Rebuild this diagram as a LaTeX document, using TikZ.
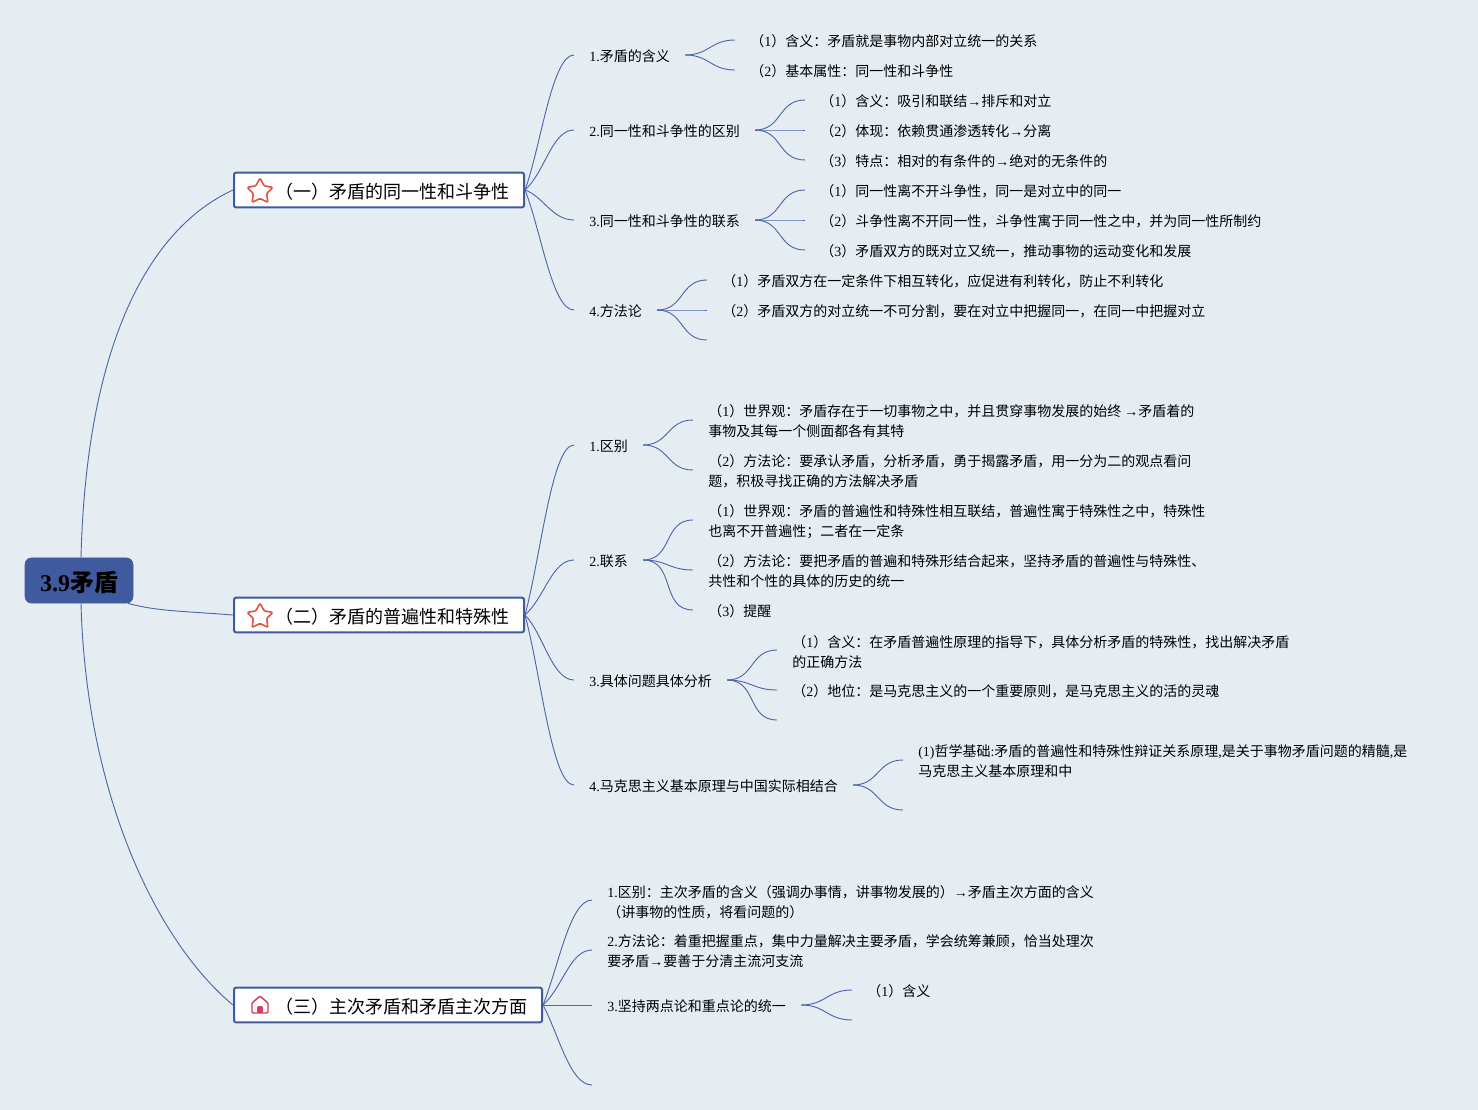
\documentclass[tikz,border=0pt]{standalone}
\usepackage{fontspec}
\setmainfont{Noto Sans CJK SC}
\newfontfamily\latin{Liberation Serif}
\newcommand{\lat}[1]{{\latin #1}}
\usetikzlibrary{arrows.meta, positioning, calc, shapes.geometric}
\definecolor{MapBack}{HTML}{E5EDF3}
\definecolor{MapBlue}{HTML}{3F5A9E}
\definecolor{MapLine}{HTML}{4F66A8}
\definecolor{MapStar}{HTML}{E2523F}
\definecolor{MapHome}{HTML}{D93A62}

\begin{document}
\begin{tikzpicture}[
    x=0.75pt, y=-0.75pt,
    root/.style={
        rectangle, rounded corners=5pt, draw=MapBlue, fill=MapBlue,
        minimum width=81pt, minimum height=34pt, inner sep=0pt,
        text height=19pt, text depth=2pt,
        font=\fontsize{18}{22}\selectfont\bfseries
    },
    sect/.style={
        rectangle, rounded corners=1.5pt, draw=MapBlue, line width=1.5pt, fill=white,
        anchor=west, minimum height=26pt, inner ysep=0pt, inner xsep=11.25pt,
        text height=14pt, text depth=1.6pt,
        font=\fontsize{13.5}{18}\selectfont
    },
    item/.style={
        anchor=west, align=left, inner xsep=11.25pt, inner ysep=0pt,
        font=\fontsize{10.5}{15}\selectfont,
        execute at begin node=\rule[-4.5pt]{0pt}{18pt}, execute at end node=\strut
    },
    icon/.style={
        star, star points=5, star point ratio=1.9, draw=MapStar, line width=1.2pt,
        minimum size=20pt, inner sep=0pt, rounded corners=0.8pt
    },
    branch/.style={MapLine, line width=0.7pt},
    fan/.style={branch, out=0, in=180, looseness=1.2}
]
\fill[MapBack] (0,0) rectangle (1478,1110);
\useasboundingbox (0,0) rectangle (1478,1110);

\node[root] (root) at (79,580.5) {\lat{3.9}矛盾};

\node[sect] (sec1) at (233,190) {\hspace*{19.5pt}（一）矛盾的同一性和斗争性};
\node[sect] (sec2) at (233,615) {\hspace*{19.5pt}（二）矛盾的普遍性和特殊性};
\node[sect] (sec3) at (233,1005) {\hspace*{19.5pt}（三）主次矛盾和矛盾主次方面};

\node[icon] (star1) at (260,191.5) {};
\node[icon] (star2) at (260,616.5) {};
% house icon
\begin{scope}[shift={(260,1005)}]
    \draw[MapHome, line width=1.1pt, rounded corners=0.8pt, line join=round]
        (-8,-2) -- (0,-9) -- (8,-2) -- (8,8) -- (-8,8) -- cycle;
    \fill[MapHome, rounded corners=1pt] (-3,8) -- (-3,1) -- (3,1) -- (3,8) -- cycle;
\end{scope}

% first section
\node[item] (a1) at (574,55) {\lat{1.}矛盾的含义};
\node[item] (a2) at (574,130) {\lat{2.}同一性和斗争性的区别};
\node[item] (a3) at (574,220) {\lat{3.}同一性和斗争性的联系};
\node[item] (a4) at (574,310) {\lat{4.}方法论};

\node[item] (a11) at (735,40) {（\lat{1}）含义：矛盾就是事物内部对立统一的关系};
\node[item] (a12) at (735,70) {（\lat{2}）基本属性：同一性和斗争性};
\node[item] (a21) at (805,100) {（\lat{1}）含义：吸引和联结\lat{→}排斥和对立};
\node[item] (a22) at (805,130) {（\lat{2}）体现：依赖贯通渗透转化\lat{→}分离};
\node[item] (a23) at (805,160) {（\lat{3}）特点：相对的有条件的\lat{→}绝对的无条件的};
\node[item] (a31) at (805,190) {（\lat{1}）同一性离不开斗争性，同一是对立中的同一};
\node[item] (a32) at (805,220) {（\lat{2}）斗争性离不开同一性，斗争性寓于同一性之中，并为同一性所制约};
\node[item] (a33) at (805,250) {（\lat{3}）矛盾双方的既对立又统一，推动事物的运动变化和发展};
\node[item] (a41) at (707,280) {（\lat{1}）矛盾双方在一定条件下相互转化，应促进有利转化，防止不利转化};
\node[item] (a42) at (707,310) {（\lat{2}）矛盾双方的对立统一不可分割，要在对立中把握同一，在同一中把握对立};
\coordinate (a43) at (707,340);

% second section
\node[item] (b1) at (574,445) {\lat{1.}区别};
\node[item] (b2) at (574,560) {\lat{2.}联系};
\node[item] (b3) at (574,680) {\lat{3.}具体问题具体分析};
\node[item] (b4) at (574,785) {\lat{4.}马克思主义基本原理与中国实际相结合};

\node[item] (b11) at (693,424) {（\lat{1}）世界观：矛盾存在于一切事物之中，并且贯穿事物发展的始终 \lat{→}矛盾着的\\事物及其每一个侧面都各有其特};
\node[item] (b12) at (693,474) {（\lat{2}）方法论：要承认矛盾，分析矛盾，勇于揭露矛盾，用一分为二的观点看问\\题，积极寻找正确的方法解决矛盾};
\node[item] (b21) at (693,524) {（\lat{1}）世界观：矛盾的普遍性和特殊性相互联结，普遍性寓于特殊性之中，特殊性\\也离不开普遍性；二者在一定条};
\node[item] (b22) at (693,574) {（\lat{2}）方法论：要把矛盾的普遍和特殊形结合起来，坚持矛盾的普遍性与特殊性、\\共性和个性的具体的历史的统一};
\node[item] (b23) at (693,610) {（\lat{3}）提醒};
\node[item] (b31) at (777,654) {（\lat{1}）含义：在矛盾普遍性原理的指导下，具体分析矛盾的特殊性，找出解决矛盾\\的正确方法};
\node[item] (b32) at (777,690) {（\lat{2}）地位：是马克思主义的一个重要原则，是马克思主义的活的灵魂};
\coordinate (b33) at (777,720);
\node[item] (b41) at (903,764) {\lat{(1)}哲学基础\lat{:}矛盾的普遍性和特殊性辩证关系原理\lat{,}是关于事物矛盾问题的精髓\lat{,}是\\马克思主义基本原理和中};
\coordinate (b42) at (903,810);

% third section
\node[item] (c1) at (592,904) {\lat{1.}区别：主次矛盾的含义（强调办事情，讲事物发展的）\lat{→}矛盾主次方面的含义\\（讲事物的性质，将看问题的）};
\node[item] (c2) at (592,954) {\lat{2.}方法论：着重把握重点，集中力量解决主要矛盾，学会统筹兼顾，恰当处理次\\要矛盾\lat{→}要善于分清主流河支流};
\node[item] (c3) at (592,1005) {\lat{3.}坚持两点论和重点论的统一};
\coordinate (c4) at (592,1085);
\node[item] (c31) at (852,990) {（\lat{1}）含义};
\coordinate (c32) at (852,1020);

% root to sections
\draw[branch] (root.85) .. controls +(5,-200) and +(-91,42) .. (sec1.west);
\draw[branch] (root.-25) .. controls +(30,8) and +(-50,-4) .. (sec2.west);
\draw[branch] (root.-85) .. controls +(5,190) and +(-77,-64) .. (sec3.west);

% sections to items
\draw[branch] (sec1.east) .. controls +(16,-44) and +(-22,0) .. (a1.west);
\draw[branch] (sec1.east) .. controls +(20,-18) and +(-22,0) .. (a2.west);
\draw[branch] (sec1.east) .. controls +(18,6) and +(-22,0) .. (a3.west);
\draw[branch] (sec1.east) .. controls +(16,40) and +(-22,0) .. (a4.west);
\draw[branch] (sec2.east) .. controls +(16,-60) and +(-22,0) .. (b1.west);
\draw[branch] (sec2.east) .. controls +(20,-18) and +(-22,0) .. (b2.west);
\draw[branch] (sec2.east) .. controls +(18,18) and +(-22,0) .. (b3.west);
\draw[branch] (sec2.east) .. controls +(16,60) and +(-22,0) .. (b4.west);
\draw[branch] (sec3.east) .. controls +(16,-40) and +(-22,0) .. ([yshift=3pt]c1.west);
\draw[branch] (sec3.east) .. controls +(20,-18) and +(-22,0) .. ([yshift=3pt]c2.west);
\draw[branch] (sec3.east) -- (c3.west);
\draw[branch] (sec3.east) .. controls +(16,30) and +(-22,0) .. (c4);

% items to leaves
\draw[fan] (a1.east) to (a11.west);
\draw[fan] (a1.east) to (a12.west);
\draw[fan] (a2.east) to (a21.west);
\draw[fan] (a2.east) to (a22.west);
\draw[fan] (a2.east) to (a23.west);
\draw[fan] (a3.east) to (a31.west);
\draw[fan] (a3.east) to (a32.west);
\draw[fan] (a3.east) to (a33.west);
\draw[fan] (a4.east) to (a41.west);
\draw[fan] (a4.east) to (a42.west);
\draw[fan] (a4.east) to (a43);
\draw[fan] (b1.east) to ([yshift=3pt]b11.west);
\draw[fan] (b1.east) to ([yshift=3pt]b12.west);
\draw[fan] (b2.east) to ([yshift=3pt]b21.west);
\draw[fan] (b2.east) to ([yshift=3pt]b22.west);
\draw[fan] (b2.east) to (b23.west);
\draw[fan] (b3.east) to ([yshift=3pt]b31.west);
\draw[fan] (b3.east) to (b32.west);
\draw[fan] (b3.east) to (b33);
\draw[fan] (b4.east) to ([yshift=3pt]b41.west);
\draw[fan] (b4.east) to (b42);
\draw[fan] (c3.east) to (c31.west);
\draw[fan] (c3.east) to (c32);

\end{tikzpicture}
\end{document}
